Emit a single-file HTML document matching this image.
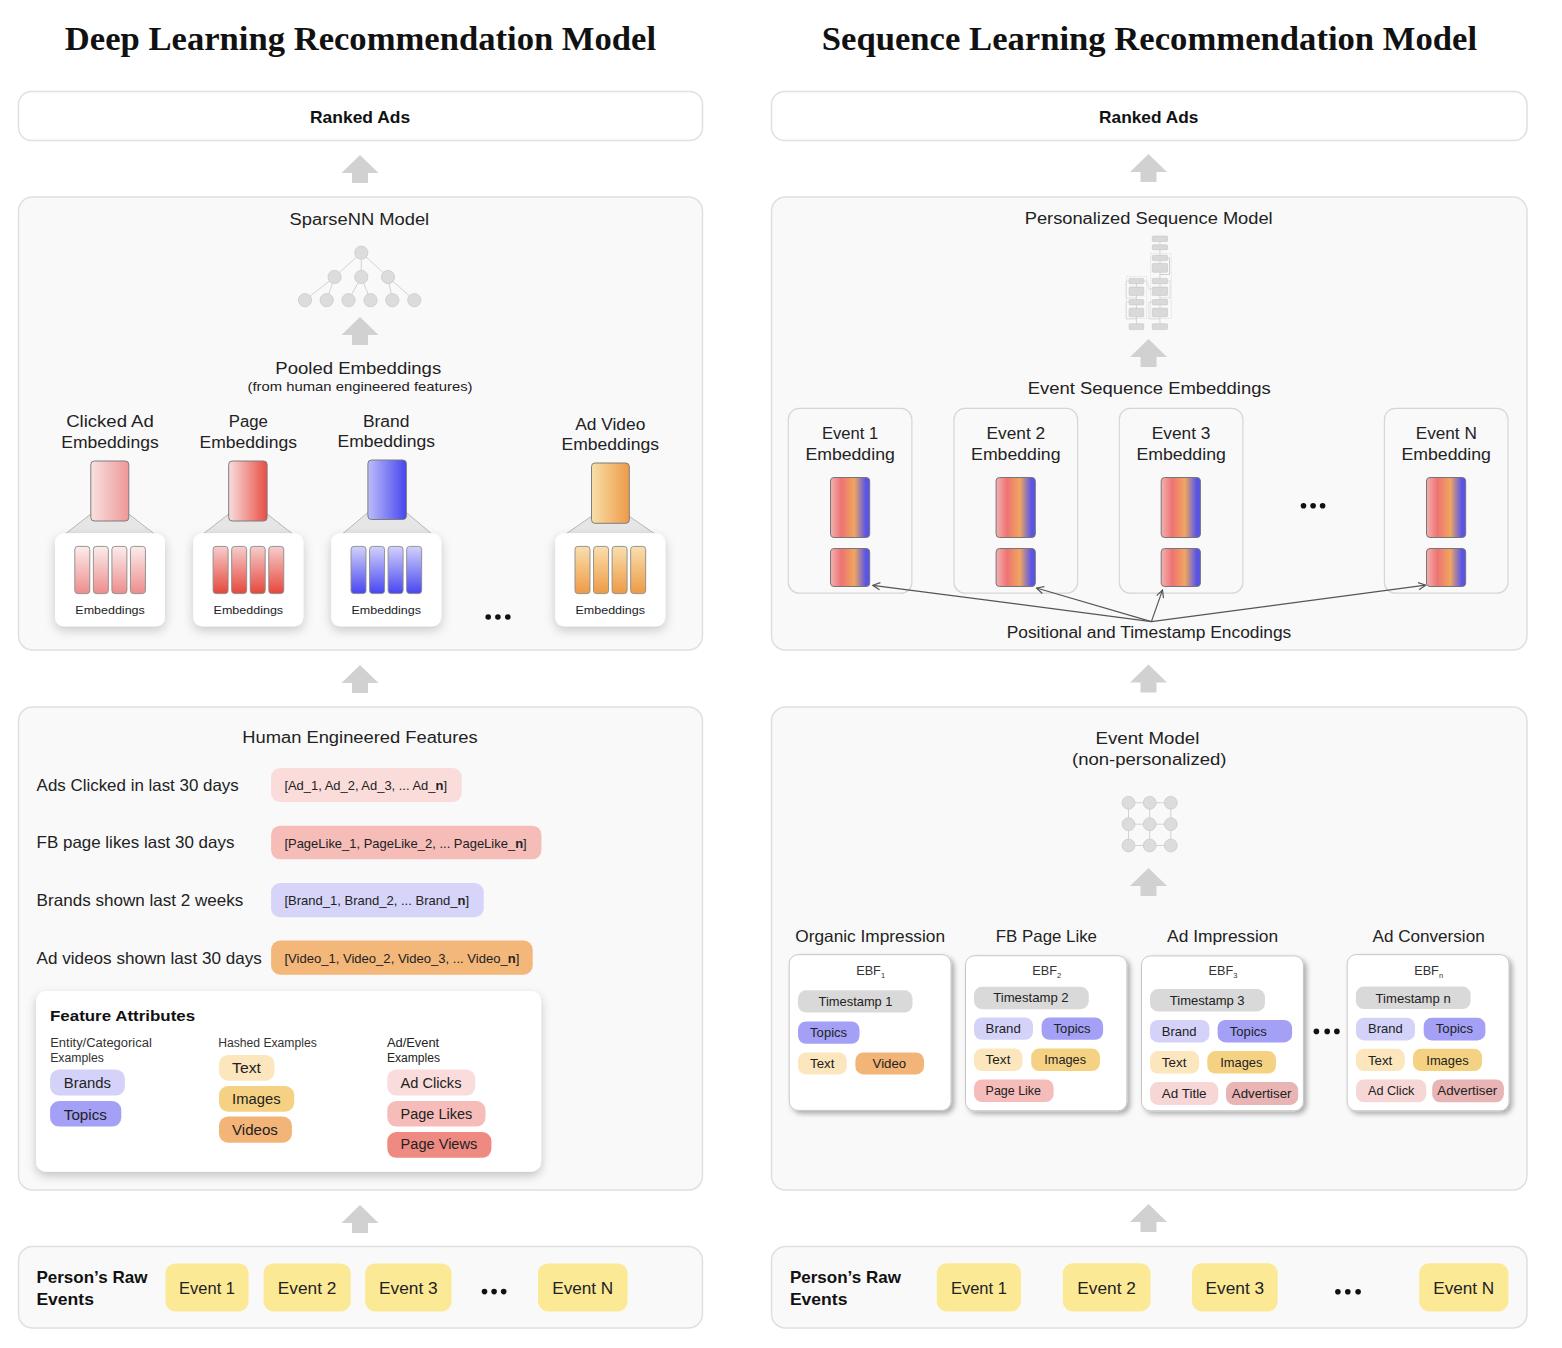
<!DOCTYPE html>
<html><head><meta charset="utf-8"><title>DLRM vs Sequence Learning</title><style>html,body{margin:0;padding:0;background:#fff;}svg{display:block;font-family:"Liberation Sans",sans-serif;}</style></head><body>
<svg width="1562" height="1348" viewBox="0 0 1562 1348">
<defs>
<filter id="sh" x="-30%" y="-30%" width="160%" height="170%"><feDropShadow dx="0" dy="4" stdDeviation="5.5" flood-color="#000" flood-opacity="0.2"/></filter>
<filter id="sh2" x="-30%" y="-30%" width="160%" height="170%"><feDropShadow dx="0" dy="4" stdDeviation="5" flood-color="#000" flood-opacity="0.22"/></filter>
<filter id="sh3" x="-30%" y="-30%" width="160%" height="170%"><feDropShadow dx="3" dy="3" stdDeviation="2.5" flood-color="#000" flood-opacity="0.3"/></filter>
<linearGradient id="g1h" x1="0" x2="1" y1="0" y2="0"><stop offset="0" stop-color="#f8e1e1"/><stop offset="1" stop-color="#ef9797"/></linearGradient>
<linearGradient id="g1v" x1="0" x2="0" y1="0" y2="1"><stop offset="0" stop-color="#fcecec"/><stop offset="1" stop-color="#ee8d8d"/></linearGradient>
<linearGradient id="g2h" x1="0" x2="1" y1="0" y2="0"><stop offset="0" stop-color="#f7dddd"/><stop offset="1" stop-color="#e84e43"/></linearGradient>
<linearGradient id="g2v" x1="0" x2="0" y1="0" y2="1"><stop offset="0" stop-color="#f6cdcd"/><stop offset="1" stop-color="#e6473c"/></linearGradient>
<linearGradient id="g3h" x1="0" x2="1" y1="0" y2="0"><stop offset="0" stop-color="#bcbcfa"/><stop offset="1" stop-color="#4646f0"/></linearGradient>
<linearGradient id="g3v" x1="0" x2="0" y1="0" y2="1"><stop offset="0" stop-color="#d2d2fb"/><stop offset="1" stop-color="#4846f0"/></linearGradient>
<linearGradient id="g4h" x1="0" x2="1" y1="0" y2="0"><stop offset="0" stop-color="#f8dfa9"/><stop offset="1" stop-color="#ee9a47"/></linearGradient>
<linearGradient id="g4v" x1="0" x2="0" y1="0" y2="1"><stop offset="0" stop-color="#f9dfad"/><stop offset="1" stop-color="#ee9a45"/></linearGradient>
<linearGradient id="gev" x1="0" x2="1" y1="0" y2="0"><stop offset="0" stop-color="#f3b1b1"/><stop offset="0.28" stop-color="#ee7373"/><stop offset="0.61" stop-color="#f0a65e"/><stop offset="0.74" stop-color="#a882a2"/><stop offset="0.9" stop-color="#5b55e6"/><stop offset="1" stop-color="#5752e8"/></linearGradient>
<marker id="ah" viewBox="0 0 10 10" refX="9" refY="5" markerWidth="9" markerHeight="9" markerUnits="userSpaceOnUse" orient="auto-start-reverse"><path d="M1,1 L9,5 L1,9" fill="none" stroke="#555" stroke-width="1.3"/></marker>
</defs>
<rect x="0" y="0" width="1562" height="1348" fill="#fff"/>
<text x="64.8" y="50.2" font-family="Liberation Serif" font-size="33" font-weight="700" fill="#111" text-anchor="start" textLength="591.3" lengthAdjust="spacingAndGlyphs">Deep Learning Recommendation Model</text>
<text x="821.8" y="49.8" font-family="Liberation Serif" font-size="33" font-weight="700" fill="#111" text-anchor="start" textLength="655.3" lengthAdjust="spacingAndGlyphs">Sequence Learning Recommendation Model</text>
<rect x="18.50" y="91.50" width="684.00" height="49.00" rx="13" fill="#fff" stroke="#e0e0e0" stroke-width="1.5"/>
<rect x="18.50" y="197.00" width="684.00" height="453.00" rx="14" fill="#f9f9f9" stroke="#e0e0e0" stroke-width="1.5"/>
<rect x="18.50" y="707.00" width="684.00" height="483.00" rx="14" fill="#f9f9f9" stroke="#e0e0e0" stroke-width="1.5"/>
<rect x="18.50" y="1246.50" width="684.00" height="81.50" rx="14" fill="#f9f9f9" stroke="#e0e0e0" stroke-width="1.5"/>
<rect x="771.50" y="91.50" width="755.50" height="49.00" rx="13" fill="#fff" stroke="#e0e0e0" stroke-width="1.5"/>
<rect x="771.50" y="197.00" width="755.50" height="453.00" rx="14" fill="#f9f9f9" stroke="#e0e0e0" stroke-width="1.5"/>
<rect x="771.50" y="707.00" width="755.50" height="483.00" rx="14" fill="#f9f9f9" stroke="#e0e0e0" stroke-width="1.5"/>
<rect x="771.50" y="1246.50" width="755.50" height="81.50" rx="14" fill="#f9f9f9" stroke="#e0e0e0" stroke-width="1.5"/>
<polygon points="360.0,155.0 378.5,173.0 368.0,173.0 368.0,183.0 352.0,183.0 352.0,173.0 341.5,173.0" fill="#d1d1d1"/>
<polygon points="360.0,317.0 378.5,335.0 368.0,335.0 368.0,345.0 352.0,345.0 352.0,335.0 341.5,335.0" fill="#d1d1d1"/>
<polygon points="360.0,665.0 378.5,683.0 368.0,683.0 368.0,693.0 352.0,693.0 352.0,683.0 341.5,683.0" fill="#d1d1d1"/>
<polygon points="360.0,1205.0 378.5,1223.0 368.0,1223.0 368.0,1233.0 352.0,1233.0 352.0,1223.0 341.5,1223.0" fill="#d1d1d1"/>
<polygon points="1148.5,154.0 1167.0,172.0 1156.5,172.0 1156.5,182.0 1140.5,182.0 1140.5,172.0 1130.0,172.0" fill="#d1d1d1"/>
<polygon points="1148.5,339.0 1167.0,357.0 1156.5,357.0 1156.5,367.0 1140.5,367.0 1140.5,357.0 1130.0,357.0" fill="#d1d1d1"/>
<polygon points="1148.5,664.5 1167.0,682.5 1156.5,682.5 1156.5,692.5 1140.5,692.5 1140.5,682.5 1130.0,682.5" fill="#d1d1d1"/>
<polygon points="1148.5,868.0 1167.0,886.0 1156.5,886.0 1156.5,896.0 1140.5,896.0 1140.5,886.0 1130.0,886.0" fill="#d1d1d1"/>
<polygon points="1148.5,1204.0 1167.0,1222.0 1156.5,1222.0 1156.5,1232.0 1140.5,1232.0 1140.5,1222.0 1130.0,1222.0" fill="#d1d1d1"/>
<text x="310.0" y="122.8" font-family="Liberation Sans" font-size="16.5" font-weight="700" fill="#111" text-anchor="start" textLength="100.1" lengthAdjust="spacingAndGlyphs">Ranked Ads</text>
<text x="1099.1" y="123.2" font-family="Liberation Sans" font-size="16.5" font-weight="700" fill="#111" text-anchor="start" textLength="99.2" lengthAdjust="spacingAndGlyphs">Ranked Ads</text>
<text x="289.6" y="224.5" font-family="Liberation Sans" font-size="16" font-weight="400" fill="#222" text-anchor="start" textLength="139.6" lengthAdjust="spacingAndGlyphs">SparseNN Model</text>
<line x1="361.3" y1="252.7" x2="334.6" y2="277" stroke="#d3d3d3" stroke-width="1"/>
<line x1="361.3" y1="252.7" x2="361.3" y2="277" stroke="#d3d3d3" stroke-width="1"/>
<line x1="361.3" y1="252.7" x2="388" y2="277" stroke="#d3d3d3" stroke-width="1"/>
<line x1="334.6" y1="277" x2="305" y2="300.2" stroke="#d3d3d3" stroke-width="1"/>
<line x1="334.6" y1="277" x2="326.7" y2="300.2" stroke="#d3d3d3" stroke-width="1"/>
<line x1="361.3" y1="277" x2="348.5" y2="300.2" stroke="#d3d3d3" stroke-width="1"/>
<line x1="361.3" y1="277" x2="370.5" y2="300.2" stroke="#d3d3d3" stroke-width="1"/>
<line x1="388" y1="277" x2="392.3" y2="300.2" stroke="#d3d3d3" stroke-width="1"/>
<line x1="388" y1="277" x2="414.3" y2="300.2" stroke="#d3d3d3" stroke-width="1"/>
<circle cx="361.3" cy="252.7" r="6.6" fill="#dcdcdc" stroke="#cacaca" stroke-width="0.8"/>
<circle cx="334.6" cy="277" r="6.6" fill="#dcdcdc" stroke="#cacaca" stroke-width="0.8"/>
<circle cx="361.3" cy="277" r="6.6" fill="#dcdcdc" stroke="#cacaca" stroke-width="0.8"/>
<circle cx="388" cy="277" r="6.6" fill="#dcdcdc" stroke="#cacaca" stroke-width="0.8"/>
<circle cx="305" cy="300.2" r="6.6" fill="#dcdcdc" stroke="#cacaca" stroke-width="0.8"/>
<circle cx="326.7" cy="300.2" r="6.6" fill="#dcdcdc" stroke="#cacaca" stroke-width="0.8"/>
<circle cx="348.5" cy="300.2" r="6.6" fill="#dcdcdc" stroke="#cacaca" stroke-width="0.8"/>
<circle cx="370.5" cy="300.2" r="6.6" fill="#dcdcdc" stroke="#cacaca" stroke-width="0.8"/>
<circle cx="392.3" cy="300.2" r="6.6" fill="#dcdcdc" stroke="#cacaca" stroke-width="0.8"/>
<circle cx="414.3" cy="300.2" r="6.6" fill="#dcdcdc" stroke="#cacaca" stroke-width="0.8"/>
<text x="275.3" y="373.6" font-family="Liberation Sans" font-size="16" font-weight="400" fill="#222" text-anchor="start" textLength="165.9" lengthAdjust="spacingAndGlyphs">Pooled Embeddings</text>
<text x="247.5" y="391.0" font-family="Liberation Sans" font-size="13.5" font-weight="400" fill="#222" text-anchor="start" textLength="225.0" lengthAdjust="spacingAndGlyphs">(from human engineered features)</text>
<text x="66.2" y="427.2" font-family="Liberation Sans" font-size="16" font-weight="400" fill="#222" text-anchor="start" textLength="87.6" lengthAdjust="spacingAndGlyphs">Clicked Ad</text>
<text x="61.3" y="448.0" font-family="Liberation Sans" font-size="16" font-weight="400" fill="#222" text-anchor="start" textLength="97.4" lengthAdjust="spacingAndGlyphs">Embeddings</text>
<polygon points="90.8,514.0 128.8,514.0 153.8,533.5 65.8,533.5" fill="#e6e6e6" stroke="none"/>
<line x1="90.8" y1="514.0" x2="65.8" y2="533.5" stroke="#a8a8a8" stroke-width="0.8"/>
<line x1="128.8" y1="514.0" x2="153.8" y2="533.5" stroke="#a8a8a8" stroke-width="0.8"/>
<rect x="55.00" y="533.30" width="110.00" height="93.00" rx="9" fill="#fff" filter="url(#sh)"/>
<rect x="90.80" y="461.00" width="38.00" height="60.00" rx="3.5" fill="url(#g1h)" stroke="#7d7d7d" stroke-width="1"/>
<rect x="74.80" y="546.40" width="15.00" height="47.20" rx="3" fill="url(#g1v)" stroke="#8a8a8a" stroke-width="0.9"/>
<rect x="93.35" y="546.40" width="15.00" height="47.20" rx="3" fill="url(#g1v)" stroke="#8a8a8a" stroke-width="0.9"/>
<rect x="111.90" y="546.40" width="15.00" height="47.20" rx="3" fill="url(#g1v)" stroke="#8a8a8a" stroke-width="0.9"/>
<rect x="130.45" y="546.40" width="15.00" height="47.20" rx="3" fill="url(#g1v)" stroke="#8a8a8a" stroke-width="0.9"/>
<text x="75.3" y="614.2" font-family="Liberation Sans" font-size="11.5" font-weight="400" fill="#222" text-anchor="start" textLength="69.5" lengthAdjust="spacingAndGlyphs">Embeddings</text>
<text x="228.8" y="427.2" font-family="Liberation Sans" font-size="16" font-weight="400" fill="#222" text-anchor="start" textLength="39.1" lengthAdjust="spacingAndGlyphs">Page</text>
<text x="199.6" y="448.0" font-family="Liberation Sans" font-size="16" font-weight="400" fill="#222" text-anchor="start" textLength="97.4" lengthAdjust="spacingAndGlyphs">Embeddings</text>
<polygon points="228.7,514.0 267.1,514.0 292.1,533.5 203.7,533.5" fill="#e6e6e6" stroke="none"/>
<line x1="228.7" y1="514.0" x2="203.7" y2="533.5" stroke="#a8a8a8" stroke-width="0.8"/>
<line x1="267.1" y1="514.0" x2="292.1" y2="533.5" stroke="#a8a8a8" stroke-width="0.8"/>
<rect x="193.30" y="533.30" width="110.00" height="93.00" rx="9" fill="#fff" filter="url(#sh)"/>
<rect x="228.70" y="461.00" width="38.40" height="60.00" rx="3.5" fill="url(#g2h)" stroke="#7d7d7d" stroke-width="1"/>
<rect x="213.10" y="546.40" width="15.00" height="47.20" rx="3" fill="url(#g2v)" stroke="#8a8a8a" stroke-width="0.9"/>
<rect x="231.65" y="546.40" width="15.00" height="47.20" rx="3" fill="url(#g2v)" stroke="#8a8a8a" stroke-width="0.9"/>
<rect x="250.20" y="546.40" width="15.00" height="47.20" rx="3" fill="url(#g2v)" stroke="#8a8a8a" stroke-width="0.9"/>
<rect x="268.75" y="546.40" width="15.00" height="47.20" rx="3" fill="url(#g2v)" stroke="#8a8a8a" stroke-width="0.9"/>
<text x="213.6" y="614.2" font-family="Liberation Sans" font-size="11.5" font-weight="400" fill="#222" text-anchor="start" textLength="69.5" lengthAdjust="spacingAndGlyphs">Embeddings</text>
<text x="362.9" y="426.5" font-family="Liberation Sans" font-size="16" font-weight="400" fill="#222" text-anchor="start" textLength="46.6" lengthAdjust="spacingAndGlyphs">Brand</text>
<text x="337.5" y="447.2" font-family="Liberation Sans" font-size="16" font-weight="400" fill="#222" text-anchor="start" textLength="97.4" lengthAdjust="spacingAndGlyphs">Embeddings</text>
<polygon points="367.9,512.5 406.4,512.5 431.4,533.5 342.9,533.5" fill="#e6e6e6" stroke="none"/>
<line x1="367.9" y1="512.5" x2="342.9" y2="533.5" stroke="#a8a8a8" stroke-width="0.8"/>
<line x1="406.4" y1="512.5" x2="431.4" y2="533.5" stroke="#a8a8a8" stroke-width="0.8"/>
<rect x="331.20" y="533.30" width="110.00" height="93.00" rx="9" fill="#fff" filter="url(#sh)"/>
<rect x="367.90" y="460.00" width="38.50" height="59.50" rx="3.5" fill="url(#g3h)" stroke="#7d7d7d" stroke-width="1"/>
<rect x="351.00" y="546.40" width="15.00" height="47.20" rx="3" fill="url(#g3v)" stroke="#8a8a8a" stroke-width="0.9"/>
<rect x="369.55" y="546.40" width="15.00" height="47.20" rx="3" fill="url(#g3v)" stroke="#8a8a8a" stroke-width="0.9"/>
<rect x="388.10" y="546.40" width="15.00" height="47.20" rx="3" fill="url(#g3v)" stroke="#8a8a8a" stroke-width="0.9"/>
<rect x="406.65" y="546.40" width="15.00" height="47.20" rx="3" fill="url(#g3v)" stroke="#8a8a8a" stroke-width="0.9"/>
<text x="351.5" y="614.2" font-family="Liberation Sans" font-size="11.5" font-weight="400" fill="#222" text-anchor="start" textLength="69.5" lengthAdjust="spacingAndGlyphs">Embeddings</text>
<text x="575.2" y="430.0" font-family="Liberation Sans" font-size="16" font-weight="400" fill="#222" text-anchor="start" textLength="70.1" lengthAdjust="spacingAndGlyphs">Ad Video</text>
<text x="561.5" y="449.5" font-family="Liberation Sans" font-size="16" font-weight="400" fill="#222" text-anchor="start" textLength="97.4" lengthAdjust="spacingAndGlyphs">Embeddings</text>
<polygon points="591.5,516.3 629.3,516.3 654.3,533.5 566.5,533.5" fill="#e6e6e6" stroke="none"/>
<line x1="591.5" y1="516.3" x2="566.5" y2="533.5" stroke="#a8a8a8" stroke-width="0.8"/>
<line x1="629.3" y1="516.3" x2="654.3" y2="533.5" stroke="#a8a8a8" stroke-width="0.8"/>
<rect x="555.20" y="533.30" width="110.00" height="93.00" rx="9" fill="#fff" filter="url(#sh)"/>
<rect x="591.50" y="463.00" width="37.80" height="60.30" rx="3.5" fill="url(#g4h)" stroke="#7d7d7d" stroke-width="1"/>
<rect x="575.00" y="546.40" width="15.00" height="47.20" rx="3" fill="url(#g4v)" stroke="#8a8a8a" stroke-width="0.9"/>
<rect x="593.55" y="546.40" width="15.00" height="47.20" rx="3" fill="url(#g4v)" stroke="#8a8a8a" stroke-width="0.9"/>
<rect x="612.10" y="546.40" width="15.00" height="47.20" rx="3" fill="url(#g4v)" stroke="#8a8a8a" stroke-width="0.9"/>
<rect x="630.65" y="546.40" width="15.00" height="47.20" rx="3" fill="url(#g4v)" stroke="#8a8a8a" stroke-width="0.9"/>
<text x="575.5" y="614.2" font-family="Liberation Sans" font-size="11.5" font-weight="400" fill="#222" text-anchor="start" textLength="69.5" lengthAdjust="spacingAndGlyphs">Embeddings</text>
<circle cx="488.2" cy="617" r="2.8" fill="#111"/>
<circle cx="497.9" cy="617" r="2.8" fill="#111"/>
<circle cx="507.8" cy="617" r="2.8" fill="#111"/>
<text x="242.3" y="742.8" font-family="Liberation Sans" font-size="16" font-weight="400" fill="#222" text-anchor="start" textLength="235.3" lengthAdjust="spacingAndGlyphs">Human Engineered Features</text>
<text x="36.6" y="791.4" font-family="Liberation Sans" font-size="16.5" font-weight="400" fill="#222" text-anchor="start" textLength="202.2" lengthAdjust="spacingAndGlyphs">Ads Clicked in last 30 days</text>
<rect x="271.10" y="768.00" width="190.60" height="34.00" rx="9" fill="#fadcdb"/>
<text x="284.4" y="790.3" font-family="Liberation Sans" font-size="13" font-weight="400" fill="#222" text-anchor="start" textLength="162.6" lengthAdjust="spacingAndGlyphs">[Ad_1, Ad_2, Ad_3, ... Ad_<tspan font-weight="700">n</tspan>]</text>
<text x="36.6" y="848.3" font-family="Liberation Sans" font-size="16.5" font-weight="400" fill="#222" text-anchor="start" textLength="197.8" lengthAdjust="spacingAndGlyphs">FB page likes last 30 days</text>
<rect x="271.10" y="825.70" width="270.30" height="33.60" rx="9" fill="#f5bcb8"/>
<text x="284.4" y="848.0" font-family="Liberation Sans" font-size="13" font-weight="400" fill="#222" text-anchor="start" textLength="242.3" lengthAdjust="spacingAndGlyphs">[PageLike_1, PageLike_2, ... PageLike_<tspan font-weight="700">n</tspan>]</text>
<text x="36.6" y="906.2" font-family="Liberation Sans" font-size="16.5" font-weight="400" fill="#222" text-anchor="start" textLength="206.8" lengthAdjust="spacingAndGlyphs">Brands shown last 2 weeks</text>
<rect x="271.10" y="883.00" width="212.60" height="34.20" rx="9" fill="#d6d4f8"/>
<text x="284.4" y="905.2" font-family="Liberation Sans" font-size="13" font-weight="400" fill="#222" text-anchor="start" textLength="184.7" lengthAdjust="spacingAndGlyphs">[Brand_1, Brand_2, ... Brand_<tspan font-weight="700">n</tspan>]</text>
<text x="36.6" y="963.5" font-family="Liberation Sans" font-size="16.5" font-weight="400" fill="#222" text-anchor="start" textLength="225.2" lengthAdjust="spacingAndGlyphs">Ad videos shown last 30 days</text>
<rect x="271.10" y="940.50" width="261.60" height="34.20" rx="9" fill="#f3b77a"/>
<text x="284.4" y="962.7" font-family="Liberation Sans" font-size="13" font-weight="400" fill="#222" text-anchor="start" textLength="235.0" lengthAdjust="spacingAndGlyphs">[Video_1, Video_2, Video_3, ... Video_<tspan font-weight="700">n</tspan>]</text>
<rect x="36.10" y="991.10" width="505.00" height="180.70" rx="10" fill="#fff" filter="url(#sh2)"/>
<text x="50.0" y="1021.2" font-family="Liberation Sans" font-size="15" font-weight="700" fill="#111" text-anchor="start" textLength="145.1" lengthAdjust="spacingAndGlyphs">Feature Attributes</text>
<text x="50.2" y="1046.7" font-family="Liberation Sans" font-size="12" font-weight="400" fill="#333" text-anchor="start" textLength="101.6" lengthAdjust="spacingAndGlyphs">Entity/Categorical</text>
<text x="50.2" y="1061.6" font-family="Liberation Sans" font-size="12" font-weight="400" fill="#333" text-anchor="start" textLength="53.7" lengthAdjust="spacingAndGlyphs">Examples</text>
<text x="218.2" y="1046.7" font-family="Liberation Sans" font-size="12" font-weight="400" fill="#333" text-anchor="start" textLength="98.6" lengthAdjust="spacingAndGlyphs">Hashed Examples</text>
<text x="386.9" y="1046.7" font-family="Liberation Sans" font-size="12" font-weight="400" fill="#222" text-anchor="start" textLength="52.3" lengthAdjust="spacingAndGlyphs">Ad/Event</text>
<text x="386.9" y="1061.6" font-family="Liberation Sans" font-size="12" font-weight="400" fill="#222" text-anchor="start" textLength="53.2" lengthAdjust="spacingAndGlyphs">Examples</text>
<rect x="50.10" y="1069.60" width="74.80" height="26.00" rx="9" fill="#d4d2f8"/>
<text x="63.8" y="1087.9" font-family="Liberation Sans" font-size="14" font-weight="400" fill="#222" text-anchor="start" textLength="47.1" lengthAdjust="spacingAndGlyphs">Brands</text>
<rect x="50.10" y="1101.00" width="71.20" height="25.60" rx="9" fill="#a3a0f5"/>
<text x="63.8" y="1119.5" font-family="Liberation Sans" font-size="14" font-weight="400" fill="#222" text-anchor="start" textLength="43.1" lengthAdjust="spacingAndGlyphs">Topics</text>
<rect x="219.00" y="1054.90" width="55.50" height="25.80" rx="9" fill="#fbe6bd"/>
<text x="232.1" y="1072.8" font-family="Liberation Sans" font-size="14" font-weight="400" fill="#222" text-anchor="start" textLength="28.8" lengthAdjust="spacingAndGlyphs">Text</text>
<rect x="219.00" y="1086.10" width="75.20" height="25.60" rx="9" fill="#f5d283"/>
<text x="232.1" y="1103.7" font-family="Liberation Sans" font-size="14" font-weight="400" fill="#222" text-anchor="start" textLength="48.5" lengthAdjust="spacingAndGlyphs">Images</text>
<rect x="219.00" y="1116.60" width="72.90" height="26.10" rx="9" fill="#f2b477"/>
<text x="232.1" y="1134.5" font-family="Liberation Sans" font-size="14" font-weight="400" fill="#222" text-anchor="start" textLength="45.8" lengthAdjust="spacingAndGlyphs">Videos</text>
<rect x="387.30" y="1069.60" width="88.00" height="26.00" rx="9" fill="#f9dcdb"/>
<text x="400.6" y="1087.9" font-family="Liberation Sans" font-size="14" font-weight="400" fill="#222" text-anchor="start" textLength="60.9" lengthAdjust="spacingAndGlyphs">Ad Clicks</text>
<rect x="387.30" y="1101.00" width="98.20" height="25.60" rx="9" fill="#f5bcb9"/>
<text x="400.6" y="1118.9" font-family="Liberation Sans" font-size="14" font-weight="400" fill="#222" text-anchor="start" textLength="71.6" lengthAdjust="spacingAndGlyphs">Page Likes</text>
<rect x="387.30" y="1132.00" width="104.10" height="25.80" rx="9" fill="#ee8a82"/>
<text x="400.6" y="1149.4" font-family="Liberation Sans" font-size="14" font-weight="400" fill="#222" text-anchor="start" textLength="76.7" lengthAdjust="spacingAndGlyphs">Page Views</text>
<text x="36.4" y="1283.0" font-family="Liberation Sans" font-size="16.5" font-weight="700" fill="#111" text-anchor="start" textLength="111.0" lengthAdjust="spacingAndGlyphs">Person’s Raw</text>
<text x="36.4" y="1305.0" font-family="Liberation Sans" font-size="16.5" font-weight="700" fill="#111" text-anchor="start" textLength="57.5" lengthAdjust="spacingAndGlyphs">Events</text>
<rect x="165.40" y="1263.40" width="83.20" height="48.10" rx="10" fill="#fce996"/>
<text x="179.0" y="1293.9" font-family="Liberation Sans" font-size="16.5" font-weight="400" fill="#222" text-anchor="start" textLength="56.0" lengthAdjust="spacingAndGlyphs">Event 1</text>
<rect x="263.60" y="1263.40" width="87.10" height="48.10" rx="10" fill="#fce996"/>
<text x="277.8" y="1293.9" font-family="Liberation Sans" font-size="16.5" font-weight="400" fill="#222" text-anchor="start" textLength="58.6" lengthAdjust="spacingAndGlyphs">Event 2</text>
<rect x="365.10" y="1263.40" width="86.40" height="48.10" rx="10" fill="#fce996"/>
<text x="379.0" y="1293.9" font-family="Liberation Sans" font-size="16.5" font-weight="400" fill="#222" text-anchor="start" textLength="58.6" lengthAdjust="spacingAndGlyphs">Event 3</text>
<rect x="538.00" y="1263.40" width="89.60" height="48.10" rx="10" fill="#fce996"/>
<text x="552.2" y="1293.9" font-family="Liberation Sans" font-size="16.5" font-weight="400" fill="#222" text-anchor="start" textLength="61.1" lengthAdjust="spacingAndGlyphs">Event N</text>
<circle cx="484.5" cy="1291.6" r="2.8" fill="#111"/>
<circle cx="494.1" cy="1291.6" r="2.8" fill="#111"/>
<circle cx="503.7" cy="1291.6" r="2.8" fill="#111"/>
<text x="1024.7" y="224.4" font-family="Liberation Sans" font-size="16" font-weight="400" fill="#222" text-anchor="start" textLength="248.0" lengthAdjust="spacingAndGlyphs">Personalized Sequence Model</text>
<line x1="1159.9499999999998" y1="238" x2="1159.9499999999998" y2="327" stroke="#c9c9c9" stroke-width="0.8"/>
<line x1="1136.4" y1="280" x2="1136.4" y2="327" stroke="#c9c9c9" stroke-width="0.8"/>
<rect x="1150.6" y="253.4" width="20.6" height="65" fill="none" stroke="#d6d6d6" stroke-width="0.6" stroke-dasharray="2,0.8"/>
<rect x="1126.5" y="276.4" width="20.2" height="42" fill="none" stroke="#d6d6d6" stroke-width="0.6" stroke-dasharray="2,0.8"/>
<path d="M1167.6,258 H1169.5 V274.5 H1160" fill="none" stroke="#bdbdbd" stroke-width="0.7"/>
<path d="M1129,281 H1126 V298 H1136" fill="none" stroke="#cfcfcf" stroke-width="0.6"/>
<path d="M1129,302 H1126 V319 H1136" fill="none" stroke="#cfcfcf" stroke-width="0.6"/>
<path d="M1152,302 H1149 V319 H1160" fill="none" stroke="#cfcfcf" stroke-width="0.6"/>
<path d="M1167.6,281 H1170 V298 H1160" fill="none" stroke="#cfcfcf" stroke-width="0.6"/>
<path d="M1143.7,281 H1147 L1149,289 H1152" fill="none" stroke="#cfcfcf" stroke-width="0.6"/>
<rect x="1152.30" y="236.10" width="15.30" height="5.40" rx="1" fill="#d9d9d9" stroke="#c4c4c4" stroke-width="0.6"/>
<rect x="1152.30" y="244.80" width="15.30" height="4.90" rx="1" fill="#d9d9d9" stroke="#c4c4c4" stroke-width="0.6"/>
<rect x="1152.30" y="255.30" width="15.30" height="5.30" rx="1" fill="#d9d9d9" stroke="#c4c4c4" stroke-width="0.6"/>
<rect x="1152.30" y="263.40" width="15.30" height="8.90" rx="1" fill="#d9d9d9" stroke="#c4c4c4" stroke-width="0.6"/>
<rect x="1152.30" y="278.40" width="15.30" height="5.30" rx="1" fill="#d9d9d9" stroke="#c4c4c4" stroke-width="0.6"/>
<rect x="1152.30" y="287.00" width="15.30" height="8.60" rx="1" fill="#d9d9d9" stroke="#c4c4c4" stroke-width="0.6"/>
<rect x="1152.30" y="299.50" width="15.30" height="5.40" rx="1" fill="#d9d9d9" stroke="#c4c4c4" stroke-width="0.6"/>
<rect x="1152.30" y="308.20" width="15.30" height="8.60" rx="1" fill="#d9d9d9" stroke="#c4c4c4" stroke-width="0.6"/>
<rect x="1152.30" y="323.80" width="15.30" height="5.80" rx="1" fill="#d9d9d9" stroke="#c4c4c4" stroke-width="0.6"/>
<rect x="1129.10" y="278.40" width="14.60" height="5.30" rx="1" fill="#d9d9d9" stroke="#c4c4c4" stroke-width="0.6"/>
<rect x="1129.10" y="287.00" width="14.60" height="8.60" rx="1" fill="#d9d9d9" stroke="#c4c4c4" stroke-width="0.6"/>
<rect x="1129.10" y="299.50" width="14.60" height="5.40" rx="1" fill="#d9d9d9" stroke="#c4c4c4" stroke-width="0.6"/>
<rect x="1129.10" y="308.20" width="14.60" height="8.60" rx="1" fill="#d9d9d9" stroke="#c4c4c4" stroke-width="0.6"/>
<rect x="1129.10" y="323.80" width="14.60" height="5.80" rx="1" fill="#d9d9d9" stroke="#c4c4c4" stroke-width="0.6"/>
<text x="1027.7" y="393.9" font-family="Liberation Sans" font-size="16" font-weight="400" fill="#222" text-anchor="start" textLength="243.0" lengthAdjust="spacingAndGlyphs">Event Sequence Embeddings</text>
<rect x="788.30" y="408.40" width="123.60" height="184.80" rx="11" fill="none" stroke="#d6d6d6" stroke-width="1.2"/>
<text x="822.0" y="438.5" font-family="Liberation Sans" font-size="16" font-weight="400" fill="#222" text-anchor="start" textLength="56.2" lengthAdjust="spacingAndGlyphs">Event 1</text>
<text x="805.4" y="459.7" font-family="Liberation Sans" font-size="16" font-weight="400" fill="#222" text-anchor="start" textLength="89.4" lengthAdjust="spacingAndGlyphs">Embedding</text>
<rect x="830.50" y="477.50" width="39.20" height="60.00" rx="3.5" fill="url(#gev)" stroke="#767676" stroke-width="1"/>
<rect x="830.50" y="548.50" width="39.20" height="38.00" rx="3.5" fill="url(#gev)" stroke="#767676" stroke-width="1"/>
<rect x="954.00" y="408.40" width="123.60" height="184.80" rx="11" fill="none" stroke="#d6d6d6" stroke-width="1.2"/>
<text x="986.5" y="438.5" font-family="Liberation Sans" font-size="16" font-weight="400" fill="#222" text-anchor="start" textLength="58.6" lengthAdjust="spacingAndGlyphs">Event 2</text>
<text x="971.1" y="459.7" font-family="Liberation Sans" font-size="16" font-weight="400" fill="#222" text-anchor="start" textLength="89.4" lengthAdjust="spacingAndGlyphs">Embedding</text>
<rect x="996.10" y="477.50" width="39.20" height="60.00" rx="3.5" fill="url(#gev)" stroke="#767676" stroke-width="1"/>
<rect x="996.10" y="548.50" width="39.20" height="38.00" rx="3.5" fill="url(#gev)" stroke="#767676" stroke-width="1"/>
<rect x="1119.30" y="408.40" width="123.60" height="184.80" rx="11" fill="none" stroke="#d6d6d6" stroke-width="1.2"/>
<text x="1151.8" y="438.5" font-family="Liberation Sans" font-size="16" font-weight="400" fill="#222" text-anchor="start" textLength="58.6" lengthAdjust="spacingAndGlyphs">Event 3</text>
<text x="1136.4" y="459.7" font-family="Liberation Sans" font-size="16" font-weight="400" fill="#222" text-anchor="start" textLength="89.4" lengthAdjust="spacingAndGlyphs">Embedding</text>
<rect x="1161.20" y="477.50" width="39.20" height="60.00" rx="3.5" fill="url(#gev)" stroke="#767676" stroke-width="1"/>
<rect x="1161.20" y="548.50" width="39.20" height="38.00" rx="3.5" fill="url(#gev)" stroke="#767676" stroke-width="1"/>
<rect x="1384.40" y="408.40" width="123.60" height="184.80" rx="11" fill="none" stroke="#d6d6d6" stroke-width="1.2"/>
<text x="1415.7" y="438.5" font-family="Liberation Sans" font-size="16" font-weight="400" fill="#222" text-anchor="start" textLength="61.1" lengthAdjust="spacingAndGlyphs">Event N</text>
<text x="1401.5" y="459.7" font-family="Liberation Sans" font-size="16" font-weight="400" fill="#222" text-anchor="start" textLength="89.4" lengthAdjust="spacingAndGlyphs">Embedding</text>
<rect x="1426.50" y="477.50" width="39.20" height="60.00" rx="3.5" fill="url(#gev)" stroke="#767676" stroke-width="1"/>
<rect x="1426.50" y="548.50" width="39.20" height="38.00" rx="3.5" fill="url(#gev)" stroke="#767676" stroke-width="1"/>
<circle cx="1303.5" cy="505.7" r="2.8" fill="#111"/>
<circle cx="1313.1" cy="505.7" r="2.8" fill="#111"/>
<circle cx="1322.6" cy="505.7" r="2.8" fill="#111"/>
<line x1="1151.4" y1="621.6" x2="872.8" y2="585.3" stroke="#555" stroke-width="1.2" marker-end="url(#ah)"/>
<line x1="1151.4" y1="621.6" x2="1036.5" y2="588" stroke="#555" stroke-width="1.2" marker-end="url(#ah)"/>
<line x1="1151.4" y1="621.6" x2="1162.5" y2="590.1" stroke="#555" stroke-width="1.2" marker-end="url(#ah)"/>
<line x1="1151.4" y1="621.6" x2="1425.7" y2="585.2" stroke="#555" stroke-width="1.2" marker-end="url(#ah)"/>
<text x="1006.7" y="638.3" font-family="Liberation Sans" font-size="16" font-weight="400" fill="#222" text-anchor="start" textLength="284.6" lengthAdjust="spacingAndGlyphs">Positional and Timestamp Encodings</text>
<text x="1095.5" y="744.0" font-family="Liberation Sans" font-size="16" font-weight="400" fill="#222" text-anchor="start" textLength="103.8" lengthAdjust="spacingAndGlyphs">Event Model</text>
<text x="1072.0" y="765.4" font-family="Liberation Sans" font-size="16" font-weight="400" fill="#222" text-anchor="start" textLength="154.5" lengthAdjust="spacingAndGlyphs">(non-personalized)</text>
<line x1="1128.5" y1="802.8" x2="1170.8" y2="802.8" stroke="#d3d3d3" stroke-width="1"/>
<line x1="1128.5" y1="824.2" x2="1170.8" y2="824.2" stroke="#d3d3d3" stroke-width="1"/>
<line x1="1128.5" y1="845.5" x2="1170.8" y2="845.5" stroke="#d3d3d3" stroke-width="1"/>
<line x1="1128.5" y1="802.8" x2="1128.5" y2="845.5" stroke="#d3d3d3" stroke-width="1"/>
<line x1="1149.7" y1="802.8" x2="1149.7" y2="845.5" stroke="#d3d3d3" stroke-width="1"/>
<line x1="1170.8" y1="802.8" x2="1170.8" y2="845.5" stroke="#d3d3d3" stroke-width="1"/>
<circle cx="1128.5" cy="802.8" r="6.4" fill="#dcdcdc" stroke="#cacaca" stroke-width="0.8"/>
<circle cx="1149.7" cy="802.8" r="6.4" fill="#dcdcdc" stroke="#cacaca" stroke-width="0.8"/>
<circle cx="1170.8" cy="802.8" r="6.4" fill="#dcdcdc" stroke="#cacaca" stroke-width="0.8"/>
<circle cx="1128.5" cy="824.2" r="6.4" fill="#dcdcdc" stroke="#cacaca" stroke-width="0.8"/>
<circle cx="1149.7" cy="824.2" r="6.4" fill="#dcdcdc" stroke="#cacaca" stroke-width="0.8"/>
<circle cx="1170.8" cy="824.2" r="6.4" fill="#dcdcdc" stroke="#cacaca" stroke-width="0.8"/>
<circle cx="1128.5" cy="845.5" r="6.4" fill="#dcdcdc" stroke="#cacaca" stroke-width="0.8"/>
<circle cx="1149.7" cy="845.5" r="6.4" fill="#dcdcdc" stroke="#cacaca" stroke-width="0.8"/>
<circle cx="1170.8" cy="845.5" r="6.4" fill="#dcdcdc" stroke="#cacaca" stroke-width="0.8"/>
<text x="795.3" y="941.9" font-family="Liberation Sans" font-size="16.5" font-weight="400" fill="#222" text-anchor="start" textLength="149.7" lengthAdjust="spacingAndGlyphs">Organic Impression</text>
<text x="995.8" y="941.9" font-family="Liberation Sans" font-size="16.5" font-weight="400" fill="#222" text-anchor="start" textLength="101.2" lengthAdjust="spacingAndGlyphs">FB Page Like</text>
<text x="1167.1" y="941.9" font-family="Liberation Sans" font-size="16.5" font-weight="400" fill="#222" text-anchor="start" textLength="111.0" lengthAdjust="spacingAndGlyphs">Ad Impression</text>
<text x="1372.5" y="941.9" font-family="Liberation Sans" font-size="16.5" font-weight="400" fill="#222" text-anchor="start" textLength="112.2" lengthAdjust="spacingAndGlyphs">Ad Conversion</text>
<rect x="789.20" y="954.60" width="161.80" height="155.80" rx="9" fill="#fff" stroke="#c2c2c2" stroke-width="0.9" filter="url(#sh3)"/>
<text x="856.2" y="975.3" font-family="Liberation Sans" font-size="13" font-weight="400" fill="#333" text-anchor="start" textLength="24.7" lengthAdjust="spacingAndGlyphs">EBF</text>
<text x="880.9" y="978.4" font-family="Liberation Sans" font-size="7.5" fill="#333">1</text>
<rect x="965.50" y="955.70" width="161.40" height="155.10" rx="9" fill="#fff" stroke="#c2c2c2" stroke-width="0.9" filter="url(#sh3)"/>
<text x="1032.3" y="975.3" font-family="Liberation Sans" font-size="13" font-weight="400" fill="#333" text-anchor="start" textLength="24.7" lengthAdjust="spacingAndGlyphs">EBF</text>
<text x="1057.0" y="978.4" font-family="Liberation Sans" font-size="7.5" fill="#333">2</text>
<rect x="1141.50" y="955.90" width="161.90" height="154.90" rx="9" fill="#fff" stroke="#c2c2c2" stroke-width="0.9" filter="url(#sh3)"/>
<text x="1208.6" y="975.3" font-family="Liberation Sans" font-size="13" font-weight="400" fill="#333" text-anchor="start" textLength="24.7" lengthAdjust="spacingAndGlyphs">EBF</text>
<text x="1233.2" y="978.4" font-family="Liberation Sans" font-size="7.5" fill="#333">3</text>
<rect x="1347.20" y="954.60" width="161.80" height="156.20" rx="9" fill="#fff" stroke="#c2c2c2" stroke-width="0.9" filter="url(#sh3)"/>
<text x="1414.2" y="975.3" font-family="Liberation Sans" font-size="13" font-weight="400" fill="#333" text-anchor="start" textLength="24.7" lengthAdjust="spacingAndGlyphs">EBF</text>
<text x="1438.9" y="978.4" font-family="Liberation Sans" font-size="7.5" fill="#333">n</text>
<rect x="798.00" y="990.30" width="114.50" height="22.30" rx="8" fill="#d9d9d9"/>
<text x="818.6" y="1006.0" font-family="Liberation Sans" font-size="13" font-weight="400" fill="#222" text-anchor="start" textLength="73.9" lengthAdjust="spacingAndGlyphs">Timestamp 1</text>
<rect x="798.00" y="1021.40" width="61.50" height="22.40" rx="8" fill="#a3a0f5"/>
<text x="810.1" y="1037.1" font-family="Liberation Sans" font-size="13" font-weight="400" fill="#222" text-anchor="start" textLength="37.0" lengthAdjust="spacingAndGlyphs">Topics</text>
<rect x="798.00" y="1052.50" width="48.80" height="21.90" rx="8" fill="#fbe6bd"/>
<text x="810.1" y="1067.7" font-family="Liberation Sans" font-size="13" font-weight="400" fill="#222" text-anchor="start" textLength="24.3" lengthAdjust="spacingAndGlyphs">Text</text>
<rect x="855.40" y="1052.50" width="68.60" height="21.90" rx="8" fill="#f2b477"/>
<text x="872.6" y="1067.7" font-family="Liberation Sans" font-size="13" font-weight="400" fill="#222" text-anchor="start" textLength="33.6" lengthAdjust="spacingAndGlyphs">Video</text>
<rect x="974.00" y="986.80" width="114.80" height="22.40" rx="8" fill="#d9d9d9"/>
<text x="993.2" y="1002.3" font-family="Liberation Sans" font-size="13" font-weight="400" fill="#222" text-anchor="start" textLength="75.5" lengthAdjust="spacingAndGlyphs">Timestamp 2</text>
<rect x="974.00" y="1017.50" width="59.00" height="22.30" rx="8" fill="#d4d2f8"/>
<text x="985.6" y="1032.9" font-family="Liberation Sans" font-size="13" font-weight="400" fill="#222" text-anchor="start" textLength="35.2" lengthAdjust="spacingAndGlyphs">Brand</text>
<rect x="1041.60" y="1017.50" width="61.50" height="22.30" rx="8" fill="#a3a0f5"/>
<text x="1053.6" y="1032.9" font-family="Liberation Sans" font-size="13" font-weight="400" fill="#222" text-anchor="start" textLength="37.0" lengthAdjust="spacingAndGlyphs">Topics</text>
<rect x="974.00" y="1048.60" width="48.50" height="22.40" rx="8" fill="#fbe6bd"/>
<text x="985.6" y="1064.0" font-family="Liberation Sans" font-size="13" font-weight="400" fill="#222" text-anchor="start" textLength="24.8" lengthAdjust="spacingAndGlyphs">Text</text>
<rect x="1031.20" y="1048.60" width="68.70" height="22.40" rx="8" fill="#f5d283"/>
<text x="1044.3" y="1064.0" font-family="Liberation Sans" font-size="13" font-weight="400" fill="#222" text-anchor="start" textLength="41.7" lengthAdjust="spacingAndGlyphs">Images</text>
<rect x="974.00" y="1079.50" width="79.60" height="22.50" rx="8" fill="#f5bcb9"/>
<text x="985.6" y="1095.2" font-family="Liberation Sans" font-size="13" font-weight="400" fill="#222" text-anchor="start" textLength="55.4" lengthAdjust="spacingAndGlyphs">Page Like</text>
<rect x="1150.00" y="989.10" width="115.00" height="22.30" rx="8" fill="#d9d9d9"/>
<text x="1169.8" y="1004.5" font-family="Liberation Sans" font-size="13" font-weight="400" fill="#222" text-anchor="start" textLength="74.8" lengthAdjust="spacingAndGlyphs">Timestamp 3</text>
<rect x="1150.00" y="1019.90" width="59.40" height="22.50" rx="8" fill="#d4d2f8"/>
<text x="1161.8" y="1035.7" font-family="Liberation Sans" font-size="13" font-weight="400" fill="#222" text-anchor="start" textLength="34.8" lengthAdjust="spacingAndGlyphs">Brand</text>
<rect x="1217.60" y="1019.90" width="74.50" height="22.50" rx="8" fill="#a3a0f5"/>
<text x="1229.8" y="1035.7" font-family="Liberation Sans" font-size="13" font-weight="400" fill="#222" text-anchor="start" textLength="37.1" lengthAdjust="spacingAndGlyphs">Topics</text>
<rect x="1150.00" y="1051.10" width="49.10" height="22.50" rx="8" fill="#fbe6bd"/>
<text x="1161.8" y="1066.5" font-family="Liberation Sans" font-size="13" font-weight="400" fill="#222" text-anchor="start" textLength="24.6" lengthAdjust="spacingAndGlyphs">Text</text>
<rect x="1207.30" y="1051.10" width="68.70" height="22.50" rx="8" fill="#f5d283"/>
<text x="1220.2" y="1066.5" font-family="Liberation Sans" font-size="13" font-weight="400" fill="#222" text-anchor="start" textLength="42.3" lengthAdjust="spacingAndGlyphs">Images</text>
<rect x="1150.00" y="1082.10" width="68.30" height="22.80" rx="8" fill="#f7d6d6"/>
<text x="1161.8" y="1098.0" font-family="Liberation Sans" font-size="13" font-weight="400" fill="#222" text-anchor="start" textLength="44.8" lengthAdjust="spacingAndGlyphs">Ad Title</text>
<rect x="1226.00" y="1082.10" width="72.20" height="22.80" rx="8" fill="#e8b4b4"/>
<text x="1231.8" y="1098.0" font-family="Liberation Sans" font-size="13" font-weight="400" fill="#222" text-anchor="start" textLength="59.7" lengthAdjust="spacingAndGlyphs">Advertiser</text>
<rect x="1355.90" y="986.60" width="114.70" height="22.50" rx="8" fill="#d9d9d9"/>
<text x="1375.6" y="1002.5" font-family="Liberation Sans" font-size="13" font-weight="400" fill="#222" text-anchor="start" textLength="75.1" lengthAdjust="spacingAndGlyphs">Timestamp n</text>
<rect x="1356.00" y="1017.80" width="59.00" height="22.60" rx="8" fill="#d4d2f8"/>
<text x="1368.0" y="1033.4" font-family="Liberation Sans" font-size="13" font-weight="400" fill="#222" text-anchor="start" textLength="34.6" lengthAdjust="spacingAndGlyphs">Brand</text>
<rect x="1423.70" y="1017.80" width="61.70" height="22.60" rx="8" fill="#a3a0f5"/>
<text x="1435.8" y="1033.4" font-family="Liberation Sans" font-size="13" font-weight="400" fill="#222" text-anchor="start" textLength="37.2" lengthAdjust="spacingAndGlyphs">Topics</text>
<rect x="1356.00" y="1048.80" width="48.80" height="22.30" rx="8" fill="#fbe6bd"/>
<text x="1368.0" y="1064.7" font-family="Liberation Sans" font-size="13" font-weight="400" fill="#222" text-anchor="start" textLength="24.3" lengthAdjust="spacingAndGlyphs">Text</text>
<rect x="1413.00" y="1048.80" width="69.10" height="22.30" rx="8" fill="#f5d283"/>
<text x="1426.3" y="1064.7" font-family="Liberation Sans" font-size="13" font-weight="400" fill="#222" text-anchor="start" textLength="42.3" lengthAdjust="spacingAndGlyphs">Images</text>
<rect x="1356.00" y="1079.50" width="70.30" height="22.80" rx="8" fill="#f7d6d6"/>
<text x="1368.0" y="1095.4" font-family="Liberation Sans" font-size="13" font-weight="400" fill="#222" text-anchor="start" textLength="46.3" lengthAdjust="spacingAndGlyphs">Ad Click</text>
<rect x="1432.20" y="1079.50" width="71.70" height="22.80" rx="8" fill="#e8b4b4"/>
<text x="1437.3" y="1095.4" font-family="Liberation Sans" font-size="13" font-weight="400" fill="#222" text-anchor="start" textLength="60.0" lengthAdjust="spacingAndGlyphs">Advertiser</text>
<circle cx="1316.4" cy="1031.4" r="2.8" fill="#111"/>
<circle cx="1327.2" cy="1031.4" r="2.8" fill="#111"/>
<circle cx="1336.9" cy="1031.4" r="2.8" fill="#111"/>
<text x="789.9" y="1282.9" font-family="Liberation Sans" font-size="16.5" font-weight="700" fill="#111" text-anchor="start" textLength="111.0" lengthAdjust="spacingAndGlyphs">Person’s Raw</text>
<text x="789.9" y="1304.6" font-family="Liberation Sans" font-size="16.5" font-weight="700" fill="#111" text-anchor="start" textLength="57.5" lengthAdjust="spacingAndGlyphs">Events</text>
<rect x="936.80" y="1263.30" width="84.20" height="48.20" rx="10" fill="#fce996"/>
<text x="950.9" y="1293.9" font-family="Liberation Sans" font-size="16.5" font-weight="400" fill="#222" text-anchor="start" textLength="56.0" lengthAdjust="spacingAndGlyphs">Event 1</text>
<rect x="1062.80" y="1263.30" width="87.70" height="48.20" rx="10" fill="#fce996"/>
<text x="1077.3" y="1293.9" font-family="Liberation Sans" font-size="16.5" font-weight="400" fill="#222" text-anchor="start" textLength="58.6" lengthAdjust="spacingAndGlyphs">Event 2</text>
<rect x="1192.00" y="1263.30" width="85.70" height="48.20" rx="10" fill="#fce996"/>
<text x="1205.5" y="1293.9" font-family="Liberation Sans" font-size="16.5" font-weight="400" fill="#222" text-anchor="start" textLength="58.6" lengthAdjust="spacingAndGlyphs">Event 3</text>
<rect x="1419.20" y="1263.30" width="89.20" height="48.20" rx="10" fill="#fce996"/>
<text x="1433.2" y="1293.9" font-family="Liberation Sans" font-size="16.5" font-weight="400" fill="#222" text-anchor="start" textLength="61.1" lengthAdjust="spacingAndGlyphs">Event N</text>
<circle cx="1337.9" cy="1291.8" r="2.8" fill="#111"/>
<circle cx="1347.8" cy="1291.8" r="2.8" fill="#111"/>
<circle cx="1358.1" cy="1291.8" r="2.8" fill="#111"/>
</svg>
</body></html>
